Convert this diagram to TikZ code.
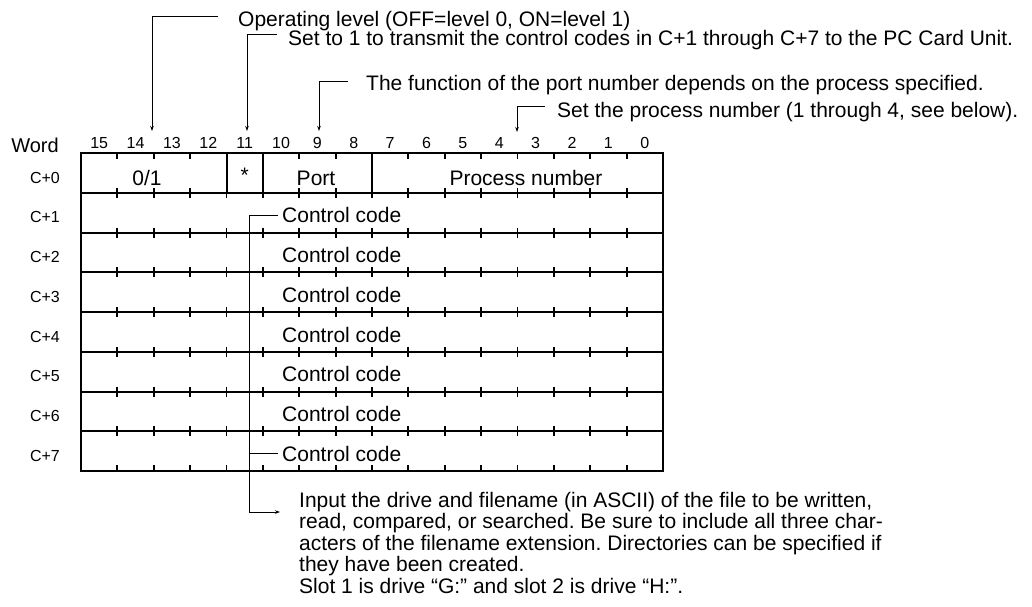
\documentclass[tikz,border=0pt]{standalone}
\usepackage{fontspec}
\setmainfont{Liberation Sans}
\usetikzlibrary{arrows.meta}
\frenchspacing
\tikzset{
  grid/.style={line width=2pt},
  tickmark/.style={line width=1.8pt},
  leader/.style={line width=0.9pt, -{Stealth[length=5pt,width=3.5pt]}},
  leaderline/.style={line width=0.9pt},
  note/.style={inner sep=0pt, anchor=base west, font=\fontsize{21}{21.5}\selectfont},
  field/.style={inner sep=0pt, anchor=base, font=\fontsize{21}{21.5}\selectfont},
  bitnum/.style={inner sep=0pt, anchor=base, font=\fontsize{16}{16}\selectfont},
}
\def\colw{36.375}
\def\rowh{39.75}

\begin{document}
\begin{tikzpicture}[x=1pt, y=-1pt]
	\useasboundingbox (0,0) rectangle (1032,606);
	% frame: 16 bits, words C+0 .. C+7
	\draw[grid] (81,153) rectangle (663,471);
	\foreach \r in {1,...,7}
		\draw[grid] (81,153+\r*\rowh) -- (663,153+\r*\rowh);
	\foreach \b in {4,5,8}
		\draw[grid] (81+\b*\colw,153) -- (81+\b*\colw,153+\rowh);
	\foreach \c in {1,...,15}{
		\draw[tickmark] (81+\c*\colw,153) -- ++(0,6);
		\draw[tickmark] (81+\c*\colw,471) -- ++(0,-6);
		\foreach \r in {1,...,7}
			\draw[tickmark] (81+\c*\colw,153+\r*\rowh-5) -- ++(0,10);
	}
	% bit numbers and word labels
	\node[font=\fontsize{20}{20}\selectfont, inner sep=0pt, anchor=base] (word) at (35,152.5) {Word};
	\foreach \c in {0,...,15}{
		\pgfmathtruncatemacro\bit{15-\c}
		\node[bitnum] (bit\bit) at (81+\c*\colw+\colw/2,148) {\bit};
	}
	\foreach \r in {0,...,7}
		\node[bitnum, anchor=base east] (w\r) at (60,153+\r*\rowh+30) {C+\r};
	% fields
	\node[field] (opfld) at (147,185) {0/1};
	\node[field] (star) at (244.8,182) {*};
	\node[field] (port) at (316,185) {Port};
	\node[field] (proc) at (526,185) {Process number};
	\foreach \r in {1,...,7}
		\node[note] (cc\r) at (282,153+\r*\rowh+30) {Control code};
	% notes above
	\node[note] (oplvl) at (238,26) {Operating level (OFF=level 0, ON=level 1)};
	\node[note] (xmit) at (288,45.7) {Set to 1 to transmit the control codes in C+1 through C+7 to the PC Card Unit.};
	\node[note] (portfn) at (366,90) {The function of the port number depends on the process specified.};
	\node[note] (procnr) at (557,117) {Set the process number (1 through 4, see below).};
	\coordinate (t14) at (152,131);
	\coordinate (t11) at (247,131);
	\coordinate (t9) at (319,131);
	\coordinate (t4) at (517,132);
	\draw[leader] ([shift={(-20pt,10pt)}]oplvl.base west) -| (t14);
	\draw[leader] ([shift={(-11pt,11pt)}]xmit.base west) -| (t11);
	\draw[leader] ([shift={(-18pt,9pt)}]portfn.base west) -| (t9);
	\draw[leader] ([shift={(-12pt,11pt)}]procnr.base west) -| (t4);
	% note below
	\node[inner sep=0pt, anchor=north west, align=left, font=\fontsize{21}{21.5}\selectfont] (fname) at (299,491.6)
		{Input the drive and filename (in ASCII) of the file to be written,\\
		read, compared, or searched. Be sure to include all three char-\\
		acters of the filename extension. Directories can be specified if\\
		they have been created.\\
		Slot 1 is drive “G:” and slot 2 is drive “H:”.};
	\coordinate (drop) at (249,512);
	\draw[leader] ([xshift=-4pt]cc1.west) -| (drop) -- ([xshift=-19pt]drop -| fname.west);
	\draw[leaderline] ([xshift=-4pt]cc7.west) -- (cc7.west -| drop);
\end{tikzpicture}
\end{document}
